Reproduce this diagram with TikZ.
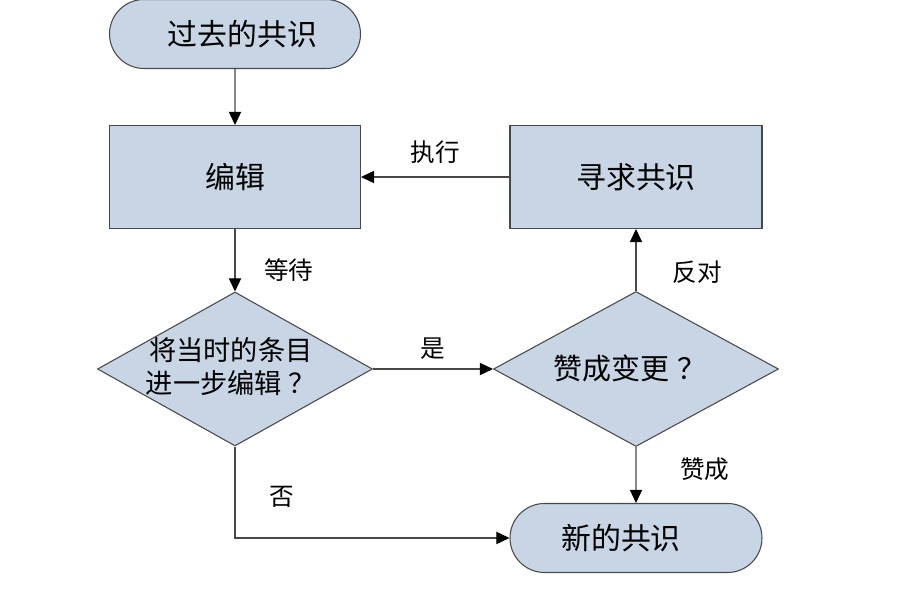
\documentclass[tikz,border=0pt]{standalone}
\usepackage{fontspec}
\setmainfont{Noto Sans CJK SC}
\usepackage{xcolor}
\usetikzlibrary{shapes.geometric, shapes.misc, arrows.meta}
\definecolor{flowfill}{HTML}{C8D5E5}
\definecolor{flowline}{HTML}{484848}
\tikzset{
  flow terminal/.style={rounded rectangle, draw=flowline, fill=flowfill, line width=0.6pt, minimum width=5.02cm, minimum height=1.38cm, inner sep=0pt, font=\fontsize{17}{20}\selectfont},
  flow box/.style={rectangle, draw=flowline, fill=flowfill, line width=0.6pt, minimum height=2.06cm, inner sep=0pt, font=\fontsize{17}{20}\selectfont},
  flow decision/.style={diamond, draw=flowline, fill=flowfill, line width=0.6pt, inner sep=0pt},
  flow text/.style={align=center, inner sep=0pt},
  flow label/.style={fill=white, inner sep=2pt, font=\fontsize{14}{16}\selectfont},
  flow edge/.style={draw=flowline, line width=0.6pt, -{Triangle[length=7.5pt, width=7pt, color=black]}}
}

\begin{document}
\begin{tikzpicture}
      \useasboundingbox[fill=white] (0,0) rectangle (18,12);
      \node[flow terminal] (past) at (4.7,11.32) {\hspace*{0.3cm}过去的共识};
      \node[flow box, minimum width=5.02cm] (edit) at (4.7,8.46) {编辑};
      \node[flow box, minimum width=5.04cm] (seek) at (12.72,8.46) {寻求共识};
      \node[flow decision, minimum width=5.5cm, minimum height=3.08cm] (further) at (4.7,4.62) {};
      \node[flow text, font=\fontsize{15.5}{18.7}\selectfont] (furthertext) at (4.62,4.66) {将当时的条目\\进一步编辑\hspace{0.25em}？};
      \node[flow decision, minimum width=5.7cm, minimum height=3.1cm] (agree) at (12.72,4.62) {};
      \node[flow text, font=\fontsize{16.5}{20}\selectfont] (agreetext) at (12.6,4.64) {赞成变更\hspace{0.3em}？};
      \node[flow terminal, minimum width=5.04cm] (new) at (12.72,1.24) {新的共识\hspace*{0.6cm}};
      \coordinate (corner) at (further.south |- new.west);
      \draw[flow edge] (past) -- (edit);
      \draw[flow edge] (edit) -- node[flow label, pos=0.65, right=0.5cm] (wait) {等待} (further);
      \draw[flow edge] (seek) -- node[flow label, above=0.18cm] (exec) {执行} (edit);
      \draw[flow edge] (further.east) -- node[flow label, above=0.1cm] (yes) {是} (agree.west);
      \draw[flow edge] (agree) -- node[flow label, pos=0.3, right=0.65cm] (oppose) {反对\hspace*{0.5cm}} (seek);
      \draw[flow edge] (agree) -- node[flow label, pos=0.4, right=0.8cm] (approve) {赞成} (new);
      \draw[flow edge] (further.south) -- node[flow label, pos=0.55, right=0.6cm] (no) {否} (corner) -- (new.west);
    \end{tikzpicture}
\end{document}
